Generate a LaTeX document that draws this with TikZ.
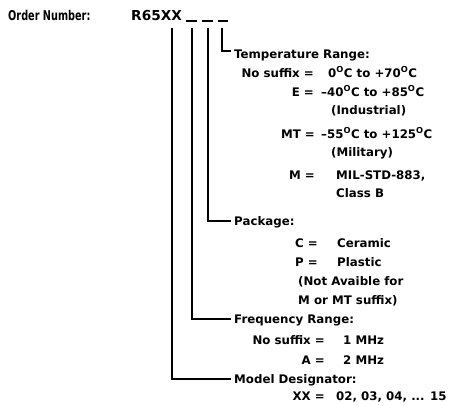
\documentclass[tikz,border=0pt]{standalone}
\usepackage{fontspec}
\setmainfont{DejaVu Sans}
\newcommand{\dg}{\textsuperscript{O}}
\begin{document}
\begin{tikzpicture}[x=1bp,y=-1bp,
  txt/.style={inner sep=0pt,font=\bfseries\fontsize{11.8bp}{14bp}\selectfont},
  lbl/.style={txt,anchor=base east},
  val/.style={txt,anchor=base west},
  hd/.style={txt,anchor=base west},
  lead/.style={line width=1.3bp}]
\useasboundingbox (0,0) rectangle (460,405);
% header
\node[hd,font=\bfseries\fontsize{13.5bp}{15bp}\selectfont] (order) at (8,20) {\scalebox{0.72}[1]{\textbf{Order Number:}}};
\node[hd,font=\bfseries\fontsize{13.7bp}{15bp}\selectfont] (part) at (131,20) {R65XX};
\coordinate (d1a) at (186,21); \coordinate (d1b) at (197,21);
\coordinate (d2a) at (202,21); \coordinate (d2b) at (213,21);
\coordinate (d3a) at (218,21); \coordinate (d3b) at (228,21);
\draw[lead] (d1a) -- (d1b);
\draw[lead] (d2a) -- (d2b);
\draw[lead] (d3a) -- (d3b);
\coordinate (t1) at (172,28);
\coordinate (t2) at (192,28);
\coordinate (t3) at (208,28);
\coordinate (t4) at (222,28);
% temperature
\node[hd] (temp) at (234,58) {Temperature Range:};
\node[lbl] (ns1) at (314,77) {No suffix =};
\node[val] (ns1v) at (328,77) {0\dg C to +70\dg C};
\node[lbl] (e) at (314,96) {E =};
\node[val] (ev) at (321,96) {--40\dg C to +85\dg C};
\node[val] (ind) at (331,114) {(Industrial)};
\node[lbl] (mt) at (315,138) {MT =};
\node[val] (mtv) at (321,138) {--55\dg C to +125\dg C};
\node[val] (mil) at (331,156) {(Military)};
\node[lbl] (m) at (315,179) {M =};
\node[val] (mv) at (336,179) {MIL-STD-883,};
\node[val] (cb) at (336,197) {Class B};
% package
\node[hd] (pkg) at (234,225) {Package:};
\node[lbl] (c) at (318,247) {C =};
\node[val] (cv) at (337,247) {Ceramic};
\node[lbl] (p) at (318,266) {P =};
\node[val] (pv) at (337,266) {Plastic};
\node[val] (na) at (298,285) {(Not Avaible for};
\node[val] (mm) at (298,304) {M or MT suffix)};
% frequency
\node[hd] (freq) at (234,323) {Frequency Range:};
\node[lbl] (ns2) at (325,344) {No suffix =};
\node[val] (ns2v) at (343,344) {1 MHz};
\node[lbl] (a) at (325,364) {A =};
\node[val] (av) at (343,364) {2 MHz};
% model
\node[hd] (model) at (234,383) {Model Designator:};
\node[lbl] (xx) at (325,400) {XX =};
\node[val] (xxv) at (336,400) {02, 03, 04, ... 15};
% leaders
\draw[lead] (t4) |- ([shift={(-3,-7)}]temp.base west);
\draw[lead] (t3) |- ([shift={(-3,-4)}]pkg.base west);
\draw[lead] (t2) |- ([shift={(-3,-4)}]freq.base west);
\draw[lead] (t1) |- ([shift={(-3,-4)}]model.base west);
\end{tikzpicture}
\end{document}
